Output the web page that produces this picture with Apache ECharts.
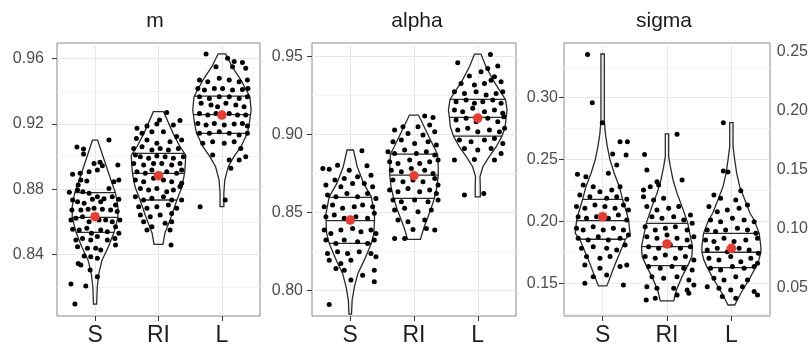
<!DOCTYPE html>
<html><head><meta charset="utf-8">
<script src="https://cdn.jsdelivr.net/npm/echarts@6/dist/echarts.min.js"></script>
<style>html,body{margin:0;padding:0;background:#fff}#c{width:812px;height:347px}</style>
</head><body><div id="c"></div>
<script>
const categories = ['S', 'RI', 'L'];
const panelTitles = ['m', 'alpha', 'sigma'];
const mTicks = [0.84, 0.88, 0.92, 0.96];
const alphaTicks = [0.80, 0.85, 0.90, 0.95];
const sigmaTicks = [0.15, 0.20, 0.25, 0.30];
const extraTicks = [0.05, 0.10, 0.15, 0.20, 0.25];

// means per group (S, RI, L)
const mMeans = [0.8633, 0.8884, 0.9255];
const alphaMeans = [0.8453, 0.8737, 0.9107];
const sigmaMeans = [0.2039, 0.1818, 0.1783];

// quantiles [25%, 50%, 75%]
const mQuantiles = [[0.8537, 0.8629, 0.8780], [0.8735, 0.8898, 0.9020], [0.9143, 0.9257, 0.9371]];
const alphaQuantiles = [[0.8303, 0.8449, 0.8598], [0.8592, 0.8741, 0.8876], [0.8991, 0.9111, 0.9226]];
const sigmaQuantiles = [[0.1856, 0.2006, 0.2179], [0.1643, 0.1796, 0.1985], [0.1627, 0.1751, 0.1904]];

// violin density profiles: [value, half width in category units]
const mViolinS = [[0.9102,0.04],[0.9020,0.11],[0.8939,0.18],[0.8857,0.25],[0.8780,0.32],[0.8694,0.36],[0.8629,0.36],[0.8537,0.30],[0.8449,0.21],[0.8367,0.11],[0.8286,0.06],[0.8204,0.035],[0.8098,0.025]];
const mViolinRI = [[0.9276,0.08],[0.9143,0.23],[0.9061,0.34],[0.9010,0.43],[0.8939,0.42],[0.8898,0.41],[0.8816,0.37],[0.8735,0.29],[0.8633,0.20],[0.8531,0.10],[0.8463,0.07]];
const mViolinL = [[0.9629,0.06],[0.9551,0.16],[0.9469,0.30],[0.9367,0.44],[0.9286,0.46],[0.9257,0.45],[0.9200,0.43],[0.9143,0.40],[0.9061,0.30],[0.9000,0.19],[0.8939,0.10],[0.8857,0.045],[0.8776,0.03],[0.8694,0.03]];
const alphaViolinS = [[0.8902,0.05],[0.8795,0.11],[0.8688,0.21],[0.8602,0.33],[0.8496,0.38],[0.8449,0.38],[0.8367,0.37],[0.8303,0.33],[0.8196,0.22],[0.8111,0.12],[0.8025,0.065],[0.7940,0.03],[0.7850,0.02]];
const alphaViolinRI = [[0.9126,0.07],[0.9008,0.21],[0.8923,0.31],[0.8876,0.37],[0.8795,0.38],[0.8741,0.38],[0.8667,0.36],[0.8592,0.32],[0.8517,0.26],[0.8410,0.16],[0.8329,0.10]];
const alphaViolinL = [[0.9517,0.05],[0.9436,0.13],[0.9350,0.24],[0.9286,0.34],[0.9226,0.435],[0.9158,0.46],[0.9111,0.445],[0.9051,0.43],[0.8991,0.38],[0.8923,0.29],[0.8859,0.18],[0.8795,0.08],[0.8731,0.035],[0.8667,0.04],[0.8602,0.04]];
const sigmaViolinS = [[0.3353,0.026],[0.2820,0.026],[0.2712,0.042],[0.2604,0.073],[0.2497,0.115],[0.2389,0.18],[0.2281,0.26],[0.2179,0.31],[0.2066,0.375],[0.2006,0.405],[0.1904,0.425],[0.1856,0.355],[0.1770,0.285],[0.1662,0.20],[0.1554,0.12],[0.1479,0.065]];
const sigmaViolinRI = [[0.2707,0.026],[0.2523,0.026],[0.2443,0.052],[0.2335,0.094],[0.2227,0.156],[0.2120,0.234],[0.1985,0.323],[0.1904,0.354],[0.1796,0.396],[0.1716,0.385],[0.1643,0.323],[0.1554,0.234],[0.1446,0.146],[0.1358,0.104]];
const sigmaViolinL = [[0.2798,0.026],[0.2604,0.026],[0.2497,0.052],[0.2389,0.083],[0.2281,0.13],[0.2173,0.21],[0.2066,0.29],[0.2012,0.354],[0.1904,0.432],[0.1796,0.458],[0.1751,0.458],[0.1689,0.427],[0.1627,0.375],[0.1527,0.27],[0.1420,0.146],[0.1325,0.052]];

// jittered observations: [horizontal jitter (category units), value]
const mPointsS = [[-0.286,0.9059],[-0.182,0.9047],[-0.182,0.9017],[0.219,0.9102],[0.078,0.8966],[-0.016,0.8959],[0.115,0.8945],[0.359,0.8949],[0.036,0.8919],[-0.094,0.8908],[-0.354,0.8892],[-0.234,0.8898],[-0.224,0.8857],[-0.130,0.8851],[-0.266,0.8827],[0.297,0.8847],[0.375,0.8857],[0.219,0.8806],[-0.406,0.8782],[-0.276,0.8796],[-0.193,0.8786],[-0.094,0.8776],[0.036,0.8755],[0.141,0.8743],[0.271,0.8755],[0.375,0.8739],[-0.354,0.8735],[-0.276,0.8725],[-0.172,0.8715],[-0.042,0.8739],[0.089,0.8725],[0.323,0.8704],[-0.365,0.8674],[-0.224,0.8674],[-0.109,0.8678],[-0.016,0.8684],[0.115,0.8678],[0.245,0.8674],[0.349,0.8664],[-0.380,0.8613],[-0.302,0.8623],[-0.198,0.8633],[-0.094,0.8602],[0.063,0.8613],[0.167,0.8613],[0.271,0.8602],[0.391,0.8613],[-0.354,0.8556],[-0.250,0.8551],[-0.130,0.8562],[-0.057,0.8531],[0.089,0.8551],[0.193,0.8541],[0.323,0.8572],[0.375,0.8531],[-0.302,0.8490],[-0.198,0.8500],[-0.068,0.8490],[0.036,0.8511],[0.193,0.8490],[0.313,0.8500],[-0.276,0.8449],[-0.120,0.8439],[0.010,0.8439],[0.089,0.8429],[0.323,0.8460],[-0.068,0.8388],[0.036,0.8378],[-0.172,0.8392],[-0.266,0.8347],[-0.224,0.8337],[-0.078,0.8307],[0.036,0.8266],[-0.380,0.8221],[-0.146,0.8209],[-0.318,0.8099]];
const mPointsRI = [[0.130,0.9270],[0.016,0.9225],[0.339,0.9221],[-0.339,0.9174],[-0.182,0.9188],[-0.026,0.9200],[0.234,0.9194],[-0.260,0.9143],[-0.104,0.9153],[0.078,0.9153],[0.286,0.9123],[-0.349,0.9112],[-0.182,0.9102],[-0.026,0.9082],[0.182,0.9092],[0.365,0.9102],[-0.391,0.9051],[-0.260,0.9061],[-0.104,0.9041],[0.026,0.9051],[0.156,0.9041],[0.313,0.9051],[-0.365,0.9010],[-0.286,0.9000],[-0.156,0.8990],[-0.026,0.9004],[0.104,0.9000],[0.234,0.8990],[0.391,0.9000],[-0.391,0.8959],[-0.234,0.8949],[-0.078,0.8959],[0.052,0.8959],[0.208,0.8949],[0.339,0.8959],[-0.339,0.8908],[-0.208,0.8898],[-0.104,0.8919],[0.130,0.8908],[0.286,0.8898],[0.365,0.8919],[-0.365,0.8857],[-0.234,0.8847],[-0.078,0.8868],[0.078,0.8857],[0.208,0.8847],[0.365,0.8837],[-0.286,0.8806],[-0.156,0.8796],[-0.026,0.8806],[0.130,0.8786],[0.234,0.8796],[0.339,0.8817],[-0.365,0.8755],[-0.234,0.8735],[-0.104,0.8745],[0.078,0.8755],[0.208,0.8735],[0.365,0.8735],[-0.313,0.8694],[-0.182,0.8684],[-0.026,0.8694],[0.156,0.8704],[0.286,0.8684],[-0.286,0.8643],[-0.130,0.8633],[0.026,0.8643],[0.208,0.8653],[-0.234,0.8602],[-0.104,0.8572],[0.104,0.8592],[0.208,0.8602],[-0.182,0.8551],[0.182,0.8551],[0.198,0.8460]];
const mPointsL = [[-0.250,0.9629],[0.089,0.9602],[0.193,0.9582],[0.323,0.9576],[-0.094,0.9551],[0.167,0.9551],[0.375,0.9541],[-0.354,0.9469],[-0.224,0.9459],[-0.042,0.9480],[0.115,0.9469],[0.271,0.9459],[0.401,0.9469],[-0.380,0.9418],[-0.276,0.9408],[-0.120,0.9418],[0.010,0.9418],[0.167,0.9408],[0.323,0.9412],[0.410,0.9418],[-0.354,0.9367],[-0.198,0.9357],[-0.042,0.9367],[0.115,0.9367],[0.271,0.9357],[0.401,0.9367],[-0.328,0.9327],[-0.172,0.9316],[-0.068,0.9306],[0.063,0.9327],[0.219,0.9316],[0.349,0.9306],[-0.354,0.9265],[-0.224,0.9255],[-0.094,0.9265],[0.115,0.9265],[0.245,0.9255],[0.375,0.9255],[-0.380,0.9204],[-0.250,0.9194],[-0.120,0.9204],[0.036,0.9194],[0.193,0.9200],[0.323,0.9204],[0.401,0.9188],[-0.354,0.9143],[-0.198,0.9143],[-0.042,0.9153],[0.115,0.9143],[0.271,0.9133],[0.401,0.9143],[-0.302,0.9082],[-0.146,0.9092],[0.036,0.9082],[0.193,0.9092],[0.297,0.9051],[0.375,0.9000],[-0.146,0.9010],[0.115,0.8980],[0.271,0.8980],[0.141,0.8929],[0.052,0.8735],[-0.344,0.8694]];
const alphaPointsS = [[0.183,0.8897],[-0.199,0.8805],[-0.430,0.8784],[-0.330,0.8778],[0.262,0.8801],[-0.016,0.8773],[0.115,0.8731],[-0.241,0.8709],[-0.094,0.8720],[0.325,0.8741],[-0.382,0.8677],[-0.147,0.8667],[0.037,0.8688],[0.220,0.8688],[0.351,0.8667],[-0.356,0.8613],[-0.225,0.8602],[-0.052,0.8624],[0.115,0.8602],[0.272,0.8624],[0.403,0.8592],[-0.408,0.8538],[-0.277,0.8549],[-0.120,0.8528],[0.063,0.8538],[0.194,0.8549],[0.351,0.8538],[-0.382,0.8474],[-0.251,0.8485],[-0.094,0.8464],[0.089,0.8474],[0.272,0.8464],[0.377,0.8496],[-0.408,0.8389],[-0.304,0.8367],[-0.147,0.8389],[0.037,0.8399],[0.168,0.8378],[0.325,0.8389],[0.403,0.8367],[-0.382,0.8325],[-0.225,0.8303],[-0.094,0.8325],[0.115,0.8314],[0.272,0.8303],[0.377,0.8325],[-0.356,0.8239],[-0.199,0.8250],[-0.042,0.8239],[0.141,0.8250],[0.325,0.8239],[-0.330,0.8196],[-0.147,0.8175],[0.010,0.8196],[0.403,0.8218],[-0.225,0.8143],[-0.094,0.8132],[0.194,0.8100],[0.377,0.8132],[0.010,0.8068],[0.377,0.8058],[-0.330,0.7912]];
const alphaPointsRI = [[0.168,0.9120],[0.298,0.9111],[-0.173,0.9051],[0.063,0.9051],[0.246,0.9062],[-0.304,0.9030],[-0.094,0.9008],[0.141,0.8998],[0.325,0.9019],[-0.330,0.8955],[-0.199,0.8966],[0.010,0.8944],[0.220,0.8955],[0.351,0.8934],[-0.408,0.8891],[-0.304,0.8880],[-0.147,0.8902],[0.037,0.8880],[0.194,0.8891],[0.325,0.8870],[-0.382,0.8827],[-0.251,0.8816],[-0.068,0.8838],[0.089,0.8816],[0.246,0.8827],[0.377,0.8838],[-0.356,0.8773],[-0.199,0.8763],[-0.042,0.8784],[0.168,0.8773],[0.298,0.8752],[-0.330,0.8709],[-0.173,0.8699],[-0.016,0.8709],[0.141,0.8699],[0.325,0.8720],[0.377,0.8677],[-0.382,0.8645],[-0.251,0.8635],[-0.094,0.8656],[0.089,0.8635],[0.246,0.8645],[0.351,0.8624],[-0.330,0.8581],[-0.199,0.8570],[0.010,0.8581],[0.220,0.8570],[0.377,0.8581],[-0.304,0.8517],[-0.147,0.8528],[0.063,0.8506],[0.272,0.8517],[-0.251,0.8453],[-0.094,0.8442],[0.168,0.8453],[0.325,0.8389],[-0.016,0.8393],[-0.304,0.8335],[-0.147,0.8335],[0.194,0.8399]];
const alphaPointsL = [[-0.314,0.9462],[0.199,0.9515],[0.314,0.9440],[0.157,0.9425],[0.052,0.9404],[-0.131,0.9376],[0.262,0.9372],[0.366,0.9340],[-0.262,0.9329],[-0.052,0.9318],[0.105,0.9329],[0.209,0.9350],[-0.366,0.9276],[-0.209,0.9265],[-0.026,0.9276],[0.131,0.9254],[0.288,0.9265],[0.393,0.9276],[-0.340,0.9212],[-0.183,0.9222],[-0.052,0.9201],[0.079,0.9212],[0.236,0.9222],[0.366,0.9201],[-0.366,0.9158],[-0.236,0.9147],[-0.079,0.9169],[0.105,0.9147],[0.262,0.9158],[0.393,0.9137],[-0.340,0.9094],[-0.183,0.9105],[-0.026,0.9083],[0.157,0.9105],[0.314,0.9083],[0.410,0.9115],[-0.314,0.9030],[-0.157,0.9041],[0.000,0.9019],[0.183,0.9030],[0.340,0.9019],[0.420,0.9041],[-0.288,0.8966],[-0.105,0.8955],[0.105,0.8966],[0.262,0.8976],[0.393,0.8944],[-0.209,0.8912],[0.000,0.8902],[0.209,0.8912],[0.366,0.8880],[-0.366,0.8838],[-0.052,0.8842],[0.262,0.8838],[-0.209,0.8613],[0.094,0.8624]];
const sigmaPointsS = [[-0.234,0.3350],[-0.161,0.2960],[-0.005,0.2798],[0.271,0.2645],[0.385,0.2645],[0.156,0.2545],[0.365,0.2537],[0.219,0.2456],[-0.391,0.2381],[-0.260,0.2362],[0.089,0.2389],[-0.302,0.2295],[-0.146,0.2281],[-0.042,0.2241],[0.141,0.2254],[0.271,0.2281],[-0.354,0.2214],[-0.198,0.2200],[0.063,0.2187],[0.219,0.2200],[0.375,0.2179],[-0.406,0.2120],[-0.276,0.2106],[-0.120,0.2133],[0.036,0.2120],[0.193,0.2106],[0.323,0.2133],[0.401,0.2093],[-0.380,0.2039],[-0.250,0.2025],[-0.094,0.2039],[0.089,0.2025],[0.245,0.2052],[0.375,0.2012],[-0.406,0.1945],[-0.302,0.1931],[-0.146,0.1958],[0.010,0.1931],[0.167,0.1945],[0.323,0.1931],[0.401,0.1891],[-0.380,0.1864],[-0.224,0.1850],[-0.068,0.1877],[0.089,0.1850],[0.271,0.1864],[0.349,0.1810],[-0.328,0.1783],[-0.146,0.1796],[0.063,0.1783],[0.219,0.1770],[-0.250,0.1716],[-0.042,0.1702],[0.115,0.1716],[-0.276,0.1648],[-0.042,0.1621],[0.271,0.1635],[0.375,0.1648],[-0.146,0.1554],[0.063,0.1568],[-0.276,0.1500],[0.323,0.1487]];
const sigmaPointsRI = [[0.156,0.2704],[0.234,0.2335],[-0.349,0.2542],[-0.313,0.2416],[-0.156,0.2321],[-0.365,0.2254],[-0.260,0.2281],[-0.130,0.2295],[-0.365,0.2200],[-0.208,0.2173],[-0.052,0.2187],[-0.313,0.2120],[-0.156,0.2093],[0.026,0.2106],[0.182,0.2120],[-0.234,0.2039],[-0.078,0.2025],[0.104,0.2039],[0.260,0.2012],[0.365,0.2052],[-0.339,0.1958],[-0.182,0.1931],[-0.026,0.1945],[0.130,0.1958],[0.313,0.1931],[0.391,0.1985],[-0.313,0.1877],[-0.156,0.1864],[0.000,0.1891],[0.156,0.1864],[0.313,0.1850],[0.417,0.1877],[-0.286,0.1796],[-0.130,0.1783],[0.052,0.1810],[0.208,0.1783],[0.365,0.1796],[-0.339,0.1716],[-0.182,0.1702],[-0.026,0.1729],[0.130,0.1702],[0.286,0.1716],[0.417,0.1689],[-0.286,0.1635],[-0.104,0.1621],[0.078,0.1635],[0.260,0.1621],[0.391,0.1608],[-0.234,0.1554],[-0.052,0.1541],[0.156,0.1554],[0.339,0.1527],[-0.313,0.1473],[-0.156,0.1460],[0.104,0.1460],[0.313,0.1446],[0.417,0.1487],[-0.323,0.1366],[-0.182,0.1379],[0.156,0.1406],[0.339,0.1420]];
const sigmaPointsL = [[-0.125,0.2798],[-0.125,0.2408],[-0.052,0.2400],[0.146,0.2249],[-0.271,0.2214],[-0.167,0.2187],[0.068,0.2173],[0.250,0.2133],[-0.349,0.2120],[-0.219,0.2079],[-0.063,0.2093],[0.120,0.2106],[-0.323,0.2012],[-0.167,0.1998],[0.016,0.2025],[0.198,0.2012],[0.354,0.1998],[-0.375,0.1931],[-0.245,0.1918],[-0.089,0.1931],[0.094,0.1945],[0.250,0.1931],[0.380,0.1904],[-0.401,0.1850],[-0.271,0.1837],[-0.115,0.1864],[0.042,0.1837],[0.224,0.1850],[0.406,0.1864],[-0.375,0.1770],[-0.219,0.1783],[-0.063,0.1756],[0.120,0.1783],[0.276,0.1770],[0.420,0.1743],[-0.349,0.1702],[-0.193,0.1689],[-0.010,0.1716],[0.146,0.1675],[0.302,0.1702],[0.406,0.1662],[-0.323,0.1621],[-0.167,0.1608],[0.016,0.1635],[0.198,0.1621],[0.354,0.1635],[-0.271,0.1541],[-0.115,0.1527],[0.068,0.1554],[0.250,0.1527],[-0.375,0.1473],[-0.193,0.1460],[-0.010,0.1446],[0.172,0.1473],[0.354,0.1433],[0.406,0.1406],[-0.141,0.1393],[0.068,0.1379]];

const FONT = 'Liberation Sans, Arial, sans-serif';

const panels = [
  {title: 'm', ticks: mTicks, min: 0.8025, max: 0.9696, step: 0.04, means: mMeans, quant: mQuantiles,
   violins: [mViolinS, mViolinRI, mViolinL], points: [mPointsS, mPointsRI, mPointsL],
   grid: {left: 57, top: 43, width: 203, height: 273}, labelMargin: 13, titleX: 155},
  {title: 'alpha', ticks: alphaTicks, min: 0.7838, max: 0.9588, step: 0.05, means: alphaMeans, quant: alphaQuantiles,
   violins: [alphaViolinS, alphaViolinRI, alphaViolinL], points: [alphaPointsS, alphaPointsRI, alphaPointsL],
   grid: {left: 312, top: 43, width: 204, height: 273}, labelMargin: 9, titleX: 417},
  {title: 'sigma', ticks: sigmaTicks, min: 0.1236, max: 0.3442, step: 0.05, means: sigmaMeans, quant: sigmaQuantiles,
   violins: [sigmaViolinS, sigmaViolinRI, sigmaViolinL], points: [sigmaPointsS, sigmaPointsRI, sigmaPointsL],
   grid: {left: 564, top: 43, width: 206, height: 273}, labelMargin: 6, titleX: 664}
];

function interpWidth(profile, v) {
  for (let i = 0; i < profile.length - 1; i++) {
    const a = profile[i], b = profile[i + 1];
    if (v <= a[0] && v >= b[0]) {
      const t = (a[0] - v) / (a[0] - b[0]);
      return a[1] + t * (b[1] - a[1]);
    }
  }
  return 0;
}

const grids = [], xAxes = [], yAxes = [], series = [], graphics = [];
panels.forEach((p, gi) => {
  grids.push(Object.assign({show: true, borderColor: '#8a8a8a', borderWidth: 1, backgroundColor: 'transparent', containLabel: false, outerBoundsMode: 'none'}, p.grid));
  xAxes.push({
    type: 'value', gridIndex: gi, min: 0.4, max: 3.6, minInterval: 1, maxInterval: 1,
    axisLine: {show: false},
    axisTick: {show: true, length: 5, customValues: [1, 2, 3], lineStyle: {color: '#333', width: 1}},
    axisLabel: {customValues: [1, 2, 3], fontSize: 23, color: '#1e1e1e', margin: 8, fontFamily: FONT,
      formatter: v => categories[Math.round(v) - 1] || ''},
    splitLine: {show: true, lineStyle: {color: '#e8e8e8', width: 1}}
  });
  yAxes.push({
    type: 'value', gridIndex: gi, min: p.min, max: p.max, minInterval: p.step, maxInterval: p.step,
    axisLine: {show: false},
    axisTick: {show: true, length: 5, customValues: p.ticks, lineStyle: {color: '#333', width: 1}},
    axisLabel: {customValues: p.ticks, fontSize: 16, color: '#4d4d4d', margin: p.labelMargin, fontFamily: FONT,
      formatter: v => v.toFixed(2)},
    splitLine: {show: true, lineStyle: {color: '#e8e8e8', width: 1}},
    minorTick: {show: false, splitNumber: 2},
    minorSplitLine: {show: true, lineStyle: {color: '#f2f2f2', width: 1}}
  });
  const violins = p.violins, quant = p.quant;
  series.push({
    type: 'custom', xAxisIndex: gi, yAxisIndex: gi, z: 2, silent: true,
    data: categories.map((c, i) => [i + 1, quant[i][1]]),
    renderItem: (params, api) => {
      const g = params.dataIndex, cx = g + 1, prof = violins[g];
      const left = prof.map(d => api.coord([cx - d[1], d[0]]));
      const right = prof.slice().reverse().map(d => api.coord([cx + d[1], d[0]]));
      const children = [{type: 'polygon', shape: {points: left.concat(right)},
        style: {fill: 'none', stroke: '#2a2a2a', lineWidth: 1.3}}];
      quant[g].forEach(q => {
        const hw = interpWidth(prof, q);
        const a = api.coord([cx - hw, q]), b = api.coord([cx + hw, q]);
        children.push({type: 'line', shape: {x1: a[0], y1: a[1], x2: b[0], y2: b[1]},
          style: {stroke: '#2a2a2a', lineWidth: 1.3}});
      });
      return {type: 'group', children};
    }
  });
  series.push({
    type: 'scatter', xAxisIndex: gi, yAxisIndex: gi, z: 3, silent: true, symbolSize: 5,
    itemStyle: {color: '#000', opacity: 1},
    data: [].concat(...p.points.map((pts, i) => pts.map(d => [i + 1 + d[0], d[1]])))
  });
  series.push({
    type: 'scatter', xAxisIndex: gi, yAxisIndex: gi, z: 4, silent: true, symbolSize: 9.5,
    itemStyle: {color: '#ec3a2e', opacity: 1},
    data: p.means.map((m, i) => [i + 1, m])
  });
  graphics.push({type: 'text', x: p.titleX, y: 21, silent: true,
    style: {text: p.title, fontSize: 21, fontFamily: FONT, fill: '#1a1a1a', textAlign: 'center', textVerticalAlign: 'middle'}});
});

// partial fourth panel at the right edge: only its axis labels are visible
grids.push({show: false, left: 818, top: 43, width: 100, height: 273, containLabel: false, outerBoundsMode: 'none'});
xAxes.push({type: 'value', gridIndex: 3, show: false, min: 0, max: 1});
yAxes.push({
  type: 'value', gridIndex: 3, min: 0.0256, max: 0.2574, minInterval: 0.05, maxInterval: 0.05,
  axisLine: {show: false}, axisTick: {show: false}, splitLine: {show: false},
  axisLabel: {customValues: extraTicks, fontSize: 16, color: '#4d4d4d', margin: 10, fontFamily: FONT,
    formatter: v => v.toFixed(2)}
});

const chart = echarts.init(document.getElementById('c'), null, {renderer: 'canvas'});
chart.setOption({
  animation: false,
  backgroundColor: '#fff',
  textStyle: {fontFamily: FONT},
  grid: grids, xAxis: xAxes, yAxis: yAxes, series: series, graphic: graphics
});
</script></body></html>
